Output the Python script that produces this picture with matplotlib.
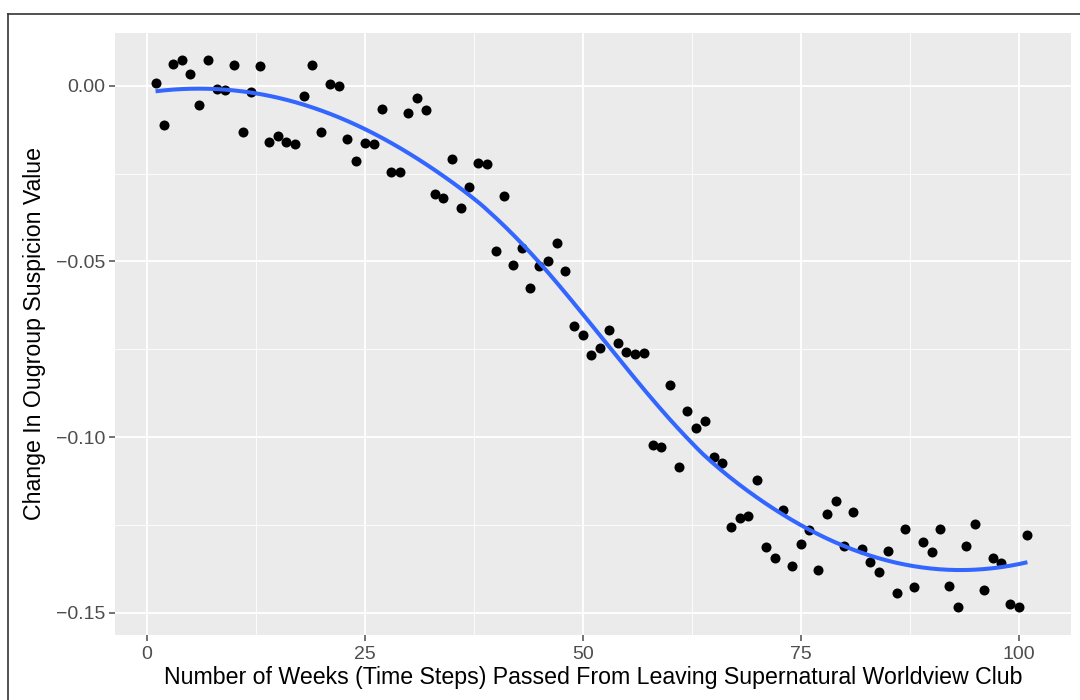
import numpy as np
import matplotlib
matplotlib.use("Agg")
import matplotlib.pyplot as plt

plt.rcParams["font.family"] = ["Liberation Sans", "DejaVu Sans"]

# ── Data ──────────────────────────────────────────────────────────────────────
weeks = np.arange(1, 102)

suspicion_change = [
    0.0009, -0.0112, 0.0063, 0.0072, 0.0034, -0.0055, 0.0073, -0.0009, -0.0013, 0.0060,
    -0.0131, -0.0017, 0.0055, -0.0160, -0.0144, -0.0159, -0.0167, -0.0029, 0.0059, -0.0131,
    0.0005, 0.0000, -0.0151, -0.0213, -0.0164, -0.0166, -0.0065, -0.0246, -0.0245, -0.0078,
    -0.0035, -0.0069, -0.0309, -0.0320, -0.0209, -0.0349, -0.0287, -0.0221, -0.0224, -0.0469,
    -0.0315, -0.0510, -0.0463, -0.0576, -0.0514, -0.0498, -0.0448, -0.0528, -0.0685, -0.0709,
    -0.0767, -0.0746, -0.0694, -0.0732, -0.0759, -0.0762, -0.0761, -0.1021, -0.1028, -0.0853,
    -0.1084, -0.0925, -0.0973, -0.0955, -0.1056, -0.1074, -0.1255, -0.1231, -0.1225, -0.1122,
    -0.1314, -0.1343, -0.1207, -0.1368, -0.1304, -0.1264, -0.1377, -0.1218, -0.1182, -0.1309,
    -0.1212, -0.1318, -0.1354, -0.1384, -0.1323, -0.1444, -0.1262, -0.1427, -0.1299, -0.1326,
    -0.1260, -0.1424, -0.1484, -0.1311, -0.1247, -0.1435, -0.1344, -0.1358, -0.1474, -0.1484,
    -0.1278,
]

x_ticks = [0, 25, 50, 75, 100]
y_ticks = [-0.15, -0.10, -0.05, 0.00]
y_ticklabels = ["\u22120.15", "\u22120.10", "\u22120.05", "0.00"]

x_label = "Number of Weeks (Time Steps) Passed From Leaving Supernatural Worldview Club"
y_label = "Change In Ougroup Suspicion Value"


# ── loess smoother (as in ggplot geom_smooth default: span .75, degree 2) ─────
def loess(x, y, x_eval, span=0.75):
    x = np.asarray(x, float)
    y = np.asarray(y, float)
    n = len(x)
    k = int(np.ceil(span * n))
    out = np.empty(len(x_eval))
    for j, x0 in enumerate(x_eval):
        d = np.abs(x - x0)
        h = np.sort(d)[k - 1]
        w = np.clip(1 - (d / h) ** 3, 0, None) ** 3
        X = np.column_stack([np.ones(n), x - x0, (x - x0) ** 2])
        W = np.sqrt(w)
        beta, *_ = np.linalg.lstsq(X * W[:, None], y * W, rcond=None)
        out[j] = beta[0]
    return out


x_fit = np.linspace(weeks.min(), weeks.max(), 200)
y_fit = loess(weeks, suspicion_change, x_fit)

# ── Figure ────────────────────────────────────────────────────────────────────
# panel runs past the right edge of the (cropped) reference image
fig = plt.figure(figsize=(10.8, 7.0), dpi=100, facecolor="white")
ax = fig.add_axes([115 / 1080, 1 - 635 / 700, (1071 - 115) / 1080, (635 - 33) / 700])
ax.set_facecolor("#EBEBEB")

for y in y_ticks:
    ax.axhline(y, color="white", lw=1.3, zorder=1)
for y in [-0.125, -0.075, -0.025]:
    ax.axhline(y, color="white", lw=0.6, zorder=1)
for x in x_ticks:
    ax.axvline(x, color="white", lw=1.3, zorder=1)
for x in [12.5, 37.5, 62.5, 87.5]:
    ax.axvline(x, color="white", lw=0.6, zorder=1)

ax.scatter(weeks, suspicion_change, s=52, color="black", linewidths=0, zorder=3)
ax.plot(x_fit, y_fit, color="#3366FF", lw=2.9, zorder=4, solid_capstyle="butt")

ax.set_xlim(-3.65, 106.0)
ax.set_ylim(-0.1563, 0.0150)
ax.set_xticks(x_ticks)
ax.set_yticks(y_ticks)
ax.set_yticklabels(y_ticklabels)
ax.tick_params(colors="#4D4D4D", labelsize=14, length=4, width=1.1,
               labelcolor="#4D4D4D", pad=3)
ax.tick_params(axis="x", pad=4)
for spine in ax.spines.values():
    spine.set_visible(False)

ax.set_xlabel(x_label, fontsize=16.7, color="black", labelpad=2)
ax.set_ylabel(y_label, fontsize=16.7, color="black", labelpad=7)

# outer frame (cropped at right / bottom in the reference)
fig.add_artist(plt.Line2D([8 / 1080, 8 / 1080], [0, 1 - 14 / 700],
                          transform=fig.transFigure, color="#333333", lw=1.2))
fig.add_artist(plt.Line2D([8 / 1080, 1], [1 - 14 / 700, 1 - 14 / 700],
                          transform=fig.transFigure, color="#333333", lw=1.2))

fig.savefig("out.png", dpi=100, facecolor=fig.get_facecolor())
